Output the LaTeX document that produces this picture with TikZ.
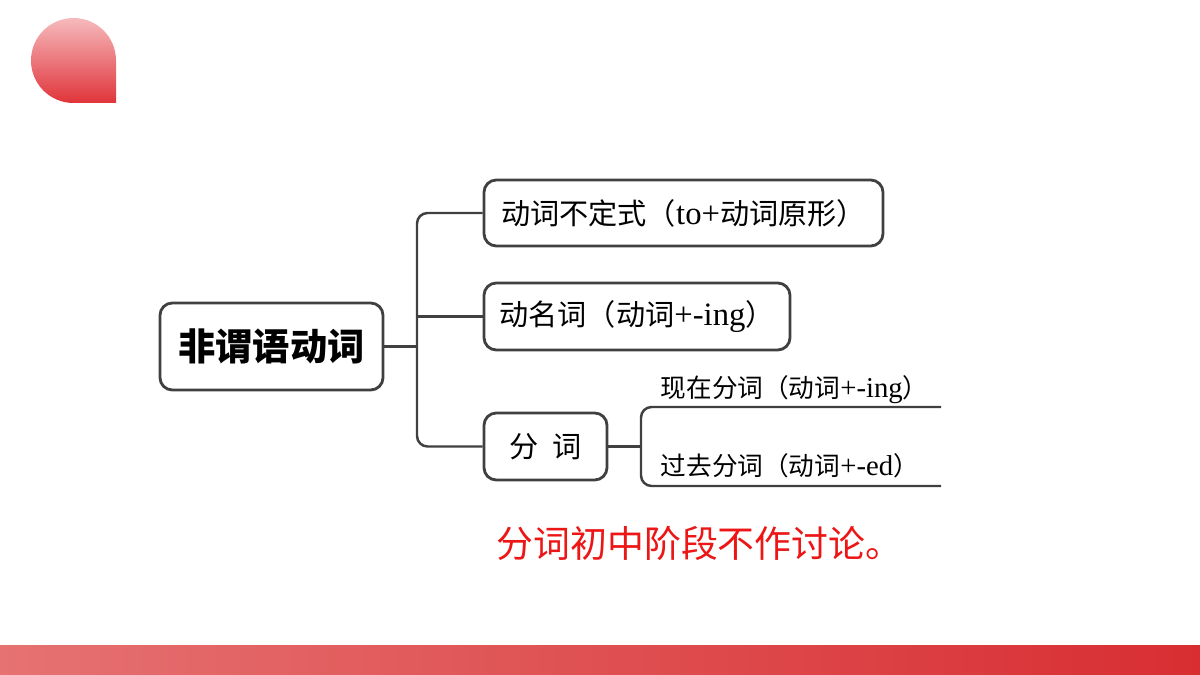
\documentclass[tikz,border=0pt]{standalone}
\usepackage{fontspec}
\setmainfont{Noto Sans CJK SC}
\newfontfamily\latin[Scale=1.12]{Liberation Serif}
\usetikzlibrary{positioning}
\definecolor{linegray}{RGB}{64,64,64}
\definecolor{logopink}{RGB}{246,186,189}
\definecolor{logored}{RGB}{224,52,58}
\definecolor{barleft}{RGB}{230,114,114}
\definecolor{barright}{RGB}{216,46,50}
\definecolor{notered}{RGB}{236,22,22}

\begin{document}
\begin{tikzpicture}
\tikzset{
  branchbox/.style={draw=linegray, line width=0.8pt, rounded corners=3.5pt, minimum height=0.66cm, inner sep=0pt, fill=white, font=\fontsize{8.3}{10}\selectfont},
  conn/.style={draw=linegray, line width=0.7pt, rounded corners=3pt},
  leaflabel/.style={anchor=base west, inner sep=0pt, font=\fontsize{7.3}{9}\selectfont},
}
\useasboundingbox (0,0) rectangle (12,6.75);

% logo and bottom bar
\shade[top color=logopink, bottom color=logored] (1.16,5.72) -- (0.735,5.72) arc[start angle=-90, end angle=-360, radius=0.425] -- cycle;
\shade[left color=barleft, right color=barright] (0,0) rectangle (12,0.29);

% nodes
\node[branchbox, minimum width=2.23cm, minimum height=0.87cm, font=\fontsize{10.6}{12}\selectfont\bfseries] (root) at (2.715,3.285) {非谓语动词};
\node[branchbox, minimum width=3.99cm] (infin) at (6.835,4.62) {动词不定式（{\latin to+}动词原形）};
\node[branchbox, minimum width=3.06cm, minimum height=0.67cm] (gerund) at (6.37,3.585) {动名词（动词{\latin +-ing}）};
\node[branchbox, minimum width=1.23cm, minimum height=0.67cm] (partic) at (5.455,2.285) {分\ \ 词};

\coordinate (trunk) at (4.17,0);
\coordinate (sub) at (6.41,2.285);
\coordinate (ptop) at (9.41,2.68);
\coordinate (pbot) at (9.41,1.89);

% connectors
\draw[conn] (root.east) -- (root.east -| trunk);
\draw[conn] (infin.west) -- (infin.west -| trunk) |- (partic.west);
\draw[conn] (gerund.west) -- (gerund.west -| trunk);
\draw[conn] (partic.east) -- (sub);
\draw[conn] (ptop) -- (ptop -| sub) -- (pbot -| sub) -- (pbot);

\node[leaflabel] (pres) at (6.60,2.77) {现在分词（动词{\latin +-ing}）};
\node[leaflabel] (past) at (6.60,1.99) {过去分词（动词{\latin +-ed}）};

\node[text=notered, font=\fontsize{10.5}{12}\selectfont] (note) at (6.995,1.32) {分词初中阶段不作讨论。};
\end{tikzpicture}
\end{document}
